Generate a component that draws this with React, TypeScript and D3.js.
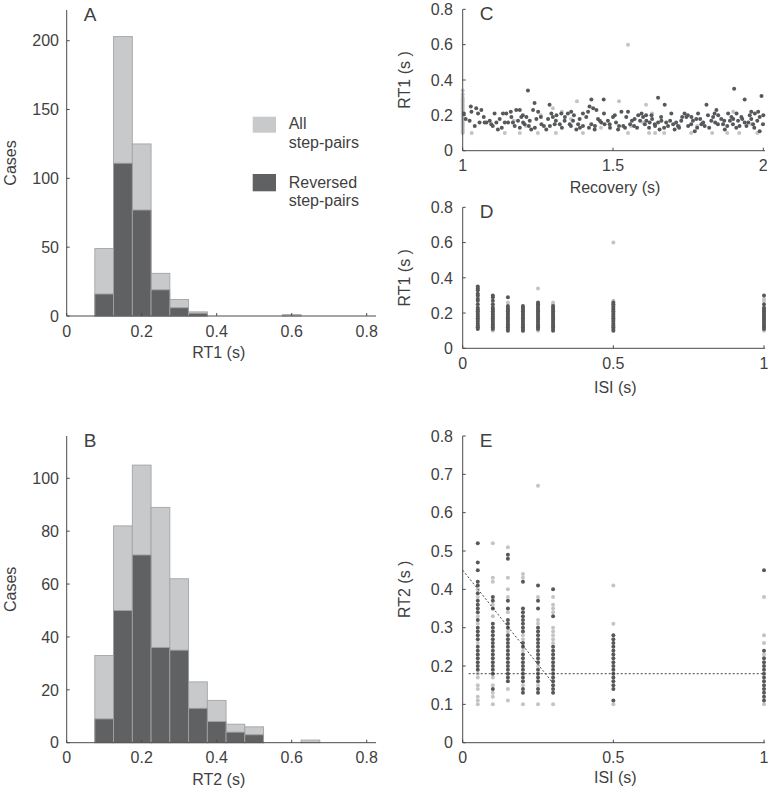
import * as d3 from "d3";

// ===== Data =====
const binCenters = [0.1, 0.15, 0.2, 0.25, 0.3, 0.35, 0.4, 0.45, 0.5, 0.55, 0.6, 0.65];
const rt1All = [49, 203, 125, 31, 12, 3, 0, 0, 0, 0, 1, 0];
const rt1Reversed = [16, 111, 77, 19, 6, 2, 0, 0, 0, 0, 0, 0];
const rt2All = [33, 82, 105, 89, 62, 23, 16, 7, 6, 0, 0, 1];
const rt2Reversed = [9, 50, 71, 36, 35, 13, 8, 4, 3, 0, 0, 0];

const isiValues = [0.05, 0.1, 0.15, 0.2, 0.25, 0.3, 0.5, 1];

// panel D: RT1 by ISI
const rt1RevByIsi = [
  [0.35, 0.34, 0.33, 0.31, 0.3, 0.28, 0.27, 0.25, 0.23, 0.22, 0.21, 0.2, 0.19, 0.18, 0.17, 0.16, 0.15, 0.14, 0.13, 0.12, 0.11],
  [0.3, 0.29, 0.27, 0.25, 0.23, 0.22, 0.21, 0.2, 0.19, 0.18, 0.17, 0.16, 0.15, 0.14, 0.13, 0.12, 0.11],
  [0.29, 0.24, 0.23, 0.22, 0.21, 0.2, 0.19, 0.18, 0.17, 0.16, 0.15, 0.14, 0.13, 0.12, 0.11, 0.1],
  [0.24, 0.23, 0.22, 0.21, 0.2, 0.19, 0.18, 0.17, 0.16, 0.15, 0.14, 0.13, 0.12, 0.11, 0.1],
  [0.26, 0.25, 0.24, 0.23, 0.22, 0.21, 0.2, 0.19, 0.18, 0.17, 0.16, 0.15, 0.14, 0.13, 0.12, 0.11],
  [0.24, 0.23, 0.22, 0.21, 0.2, 0.19, 0.18, 0.17, 0.16, 0.15, 0.14, 0.13, 0.12, 0.11, 0.1],
  [0.26, 0.25, 0.24, 0.23, 0.22, 0.21, 0.2, 0.19, 0.18, 0.17, 0.16, 0.15, 0.14, 0.13, 0.12, 0.11, 0.1],
  [0.3, 0.25, 0.23, 0.22, 0.21, 0.2, 0.19, 0.18, 0.17, 0.16, 0.15, 0.14, 0.13, 0.12, 0.11],
];
const rt1AllByIsi = [
  [0.29, 0.12],
  [0.24, 0.1],
  [0.26],
  [0.1],
  [0.34, 0.1],
  [0.26, 0.25],
  [0.6, 0.27],
  [0.28, 0.27, 0.1],
];

// panel E: RT2 by ISI
const rt2RevByIsi = [
  [0.52, 0.47, 0.45, 0.42, 0.41, 0.39, 0.37, 0.36, 0.35, 0.34, 0.32, 0.3, 0.29, 0.28, 0.27, 0.25, 0.24, 0.23, 0.22, 0.21, 0.2, 0.19],
  [0.38, 0.37, 0.35, 0.31, 0.3, 0.29, 0.28, 0.27, 0.26, 0.25, 0.24, 0.23, 0.22, 0.21, 0.2, 0.19, 0.18, 0.14],
  [0.49, 0.48, 0.37, 0.35, 0.32, 0.31, 0.3, 0.28, 0.27, 0.26, 0.25, 0.24, 0.23, 0.22, 0.21, 0.2, 0.19, 0.18, 0.17, 0.16],
  [0.42, 0.35, 0.34, 0.33, 0.32, 0.31, 0.3, 0.29, 0.26, 0.25, 0.23, 0.22, 0.21, 0.2, 0.19, 0.18, 0.17, 0.16, 0.14, 0.13],
  [0.41, 0.37, 0.35, 0.3, 0.29, 0.28, 0.27, 0.26, 0.25, 0.24, 0.23, 0.22, 0.21, 0.19, 0.18, 0.17, 0.16, 0.14, 0.13],
  [0.4, 0.33, 0.25, 0.24, 0.23, 0.22, 0.21, 0.2, 0.19, 0.18, 0.17, 0.16, 0.15, 0.14, 0.13],
  [0.28, 0.27, 0.26, 0.25, 0.24, 0.23, 0.22, 0.21, 0.2, 0.19, 0.18, 0.17, 0.16, 0.15, 0.14, 0.11],
  [0.45, 0.24, 0.22, 0.21, 0.2, 0.19, 0.18, 0.17, 0.16, 0.15, 0.14, 0.13, 0.12, 0.11],
];
const rt2AllByIsi = [
  [0.4, 0.38, 0.33, 0.31, 0.26, 0.18, 0.17, 0.15, 0.14, 0.12, 0.11, 0.1],
  [0.52, 0.43, 0.42, 0.36, 0.33, 0.17, 0.15, 0.13, 0.12, 0.1],
  [0.51, 0.43, 0.4, 0.38, 0.34, 0.29, 0.14, 0.11],
  [0.44, 0.43, 0.28, 0.27, 0.24, 0.15, 0.1],
  [0.67, 0.38, 0.32, 0.31, 0.2, 0.15, 0.1],
  [0.38, 0.36, 0.35, 0.34, 0.3, 0.29, 0.28, 0.27, 0.26, 0.1],
  [0.41, 0.31, 0.1],
  [0.38, 0.28, 0.26, 0.23, 0.1],
];

// fitted lines in E
const fitSlope = [[0, 0.45], [0.3, 0.155]];
const fitFlat = [[0.02, 0.18], [1, 0.18]];

// panel C: RT1 vs recovery
const recoveryRev = [
  [1.004, 0.21], [1.027, 0.25], [1.029, 0.22], [1.023, 0.17], [1.045, 0.24], [1.051, 0.21], [1.056, 0.16], [1.062, 0.23],
  [1.073, 0.16], [1.079, 0.16], [1.09, 0.17], [1.095, 0.15], [1.106, 0.21], [1.112, 0.16], [1.117, 0.12], [1.123, 0.18],
  [1.134, 0.21], [1.14, 0.16], [1.145, 0.21], [1.151, 0.16], [1.162, 0.19], [1.167, 0.16], [1.173, 0.14], [1.178, 0.23],
  [1.184, 0.17], [1.19, 0.23], [1.195, 0.19], [1.201, 0.16], [1.206, 0.15], [1.212, 0.19], [1.217, 0.34], [1.223, 0.17],
  [1.228, 0.12], [1.234, 0.23], [1.239, 0.27], [1.245, 0.18], [1.251, 0.22], [1.262, 0.15], [1.278, 0.12], [1.284, 0.18],
  [1.289, 0.26], [1.295, 0.21], [1.3, 0.19], [1.306, 0.15], [1.312, 0.2], [1.323, 0.15], [1.328, 0.21], [1.339, 0.17],
  [1.35, 0.21], [1.356, 0.15], [1.361, 0.22], [1.367, 0.17], [1.378, 0.12], [1.384, 0.15], [1.389, 0.18], [1.4, 0.14],
  [1.411, 0.19], [1.417, 0.22], [1.422, 0.25], [1.428, 0.29], [1.428, 0.15], [1.434, 0.24], [1.439, 0.12], [1.445, 0.23],
  [1.456, 0.17], [1.461, 0.16], [1.469, 0.29], [1.472, 0.15], [1.483, 0.17], [1.489, 0.15], [1.5, 0.19], [1.506, 0.2],
  [1.517, 0.12], [1.528, 0.22], [1.534, 0.14], [1.544, 0.19], [1.557, 0.15], [1.563, 0.17], [1.572, 0.18], [1.584, 0.2],
  [1.595, 0.21], [1.6, 0.19], [1.606, 0.15], [1.611, 0.17], [1.622, 0.16], [1.628, 0.2], [1.639, 0.15], [1.65, 0.3],
  [1.65, 0.16], [1.655, 0.12], [1.661, 0.17], [1.672, 0.26], [1.677, 0.16], [1.683, 0.14], [1.694, 0.21], [1.7, 0.15],
  [1.705, 0.12], [1.716, 0.14], [1.727, 0.17], [1.738, 0.21], [1.744, 0.19], [1.749, 0.2], [1.761, 0.19], [1.766, 0.17],
  [1.772, 0.11], [1.777, 0.18], [1.783, 0.21], [1.794, 0.15], [1.805, 0.14], [1.811, 0.26], [1.816, 0.2], [1.827, 0.17],
  [1.833, 0.19], [1.838, 0.21], [1.844, 0.23], [1.849, 0.15], [1.86, 0.18], [1.866, 0.15], [1.872, 0.12], [1.883, 0.21],
  [1.889, 0.17], [1.894, 0.19], [1.899, 0.15], [1.903, 0.35], [1.911, 0.21], [1.916, 0.17], [1.921, 0.14], [1.927, 0.19],
  [1.938, 0.29], [1.938, 0.16], [1.944, 0.14], [1.955, 0.2], [1.96, 0.18], [1.966, 0.15], [1.972, 0.21], [1.983, 0.22],
  [1.988, 0.19], [1.994, 0.31], [1.999, 0.15], [1.988, 0.11],
  [1.01, 0.18], [1.04, 0.14], [1.07, 0.19], [1.1, 0.14], [1.13, 0.13], [1.16, 0.22], [1.19, 0.13], [1.2, 0.2],
  [1.22, 0.14], [1.24, 0.13], [1.26, 0.19], [1.27, 0.14], [1.29, 0.14], [1.31, 0.17], [1.33, 0.13], [1.34, 0.19],
  [1.36, 0.14], [1.37, 0.2], [1.39, 0.13], [1.4, 0.21], [1.42, 0.13], [1.44, 0.14], [1.45, 0.18], [1.47, 0.21],
  [1.49, 0.13], [1.51, 0.16], [1.52, 0.14], [1.54, 0.13], [1.55, 0.22], [1.57, 0.14], [1.58, 0.13], [1.59, 0.17],
  [1.61, 0.2], [1.62, 0.13], [1.63, 0.18], [1.64, 0.14], [1.66, 0.19], [1.67, 0.13], [1.69, 0.17], [1.71, 0.16],
  [1.72, 0.13], [1.73, 0.19], [1.75, 0.14], [1.76, 0.15], [1.78, 0.13], [1.79, 0.18], [1.8, 0.16], [1.82, 0.13],
  [1.84, 0.16], [1.85, 0.2], [1.87, 0.17], [1.88, 0.14], [1.9, 0.18], [1.91, 0.13], [1.93, 0.18], [1.95, 0.16],
  [1.96, 0.22], [1.97, 0.13], [1.98, 0.17], [2.0, 0.2],
];
const recoveryAll = [
  [1, 0.34], [1, 0.32], [1, 0.3], [1, 0.29], [1, 0.28], [1, 0.27], [1, 0.26], [1, 0.25], [1, 0.24], [1, 0.23],
  [1, 0.22], [1, 0.21], [1, 0.2], [1, 0.19], [1, 0.18], [1, 0.17], [1, 0.16], [1, 0.15], [1, 0.14], [1, 0.13],
  [1, 0.12], [1, 0.11], [1, 0.1],
  [1.03, 0.1], [1.14, 0.1], [1.19, 0.1], [1.17, 0.17], [1.21, 0.14], [1.25, 0.1], [1.26, 0.2], [1.3, 0.24],
  [1.31, 0.1], [1.38, 0.28], [1.4, 0.1], [1.36, 0.18], [1.52, 0.28], [1.55, 0.6], [1.55, 0.1], [1.56, 0.14],
  [1.6, 0.16], [1.61, 0.26], [1.62, 0.1], [1.64, 0.1], [1.67, 0.1], [1.63, 0.21], [1.72, 0.14], [1.76, 0.1],
  [1.78, 0.14], [1.83, 0.1], [1.88, 0.1], [1.92, 0.1], [1.98, 0.1], [1.9, 0.22], [1.96, 0.15], [1.46, 0.13],
  [1.33, 0.22],
];

const histYTicksA = [0, 50, 100, 150, 200];
const histYTicksB = [0, 20, 40, 60, 80, 100];
const histXTicks = [0, 0.2, 0.4, 0.6, 0.8];
const rtTicks = [0, 0.2, 0.4, 0.6, 0.8];
const rt2Ticks = [0, 0.1, 0.2, 0.3, 0.4, 0.5, 0.6, 0.7, 0.8];
const recoveryTicks = [1, 1.5, 2];
const isiTicks = [0, 0.5, 1];

// ===== Styles =====
const FONT = "'Liberation Sans', Arial, sans-serif";
const AXIS = "#4a4a4a";
const TEXT = "#3f3f3f";
const LIGHT = "#c8c9cb";
const DARK = "#606163";
const DOT_LIGHT = "#c3c4c6";
const DOT_DARK = "#56585a";
const BIN = 0.05;

type Lin = d3.ScaleLinear<number, number>;

function Axes({
  x, y, xTicks, yTicks, xEnd, yTop, xLabel, yLabel, letter, yLabelX, yLabelAnchor, xLabelY,
}: {
  x: Lin; y: Lin; xTicks: number[]; yTicks: number[]; xEnd: number; yTop: number;
  xLabel: string; yLabel: string; letter: string; yLabelX: number; yLabelAnchor: number; xLabelY: number;
}) {
  const x0 = x.range()[0];
  const y0 = y.range()[0];
  const fmt = (d: number) => String(d);
  const [xa, xb] = x.range();
  const [ya, yb] = [y0, yTop];
  return (
    <g fontFamily={FONT} fill={TEXT}>
      <line x1={x0} x2={xEnd} y1={y0} y2={y0} stroke={AXIS} strokeWidth={1} />
      <line x1={x0} x2={x0} y1={y0} y2={yTop} stroke={AXIS} strokeWidth={1} />
      {xTicks.map((t) => (
        <g key={"x" + t}>
          <line x1={x(t)} x2={x(t)} y1={y0} y2={y0 - 3} stroke={AXIS} />
          <text x={x(t)} y={y0 + 20.5} textAnchor="middle" fontSize={16}>
            {fmt(t)}
          </text>
        </g>
      ))}
      {yTicks.map((t) => (
        <g key={"y" + t}>
          <line x1={x0} x2={x0 + 3} y1={y(t)} y2={y(t)} stroke={AXIS} />
          <text x={yLabelAnchor} y={y(t)} dy="0.36em" textAnchor="end" fontSize={16}>
            {fmt(t)}
          </text>
        </g>
      ))}
      <text x={(xa + xb) / 2 + 2} y={xLabelY} textAnchor="middle" fontSize={16}>
        {xLabel}
      </text>
      <text
        transform={`translate(${yLabelX},${(ya + yb) / 2}) rotate(-90)`}
        textAnchor="middle"
        fontSize={16}
      >
        {yLabel}
      </text>
      <text x={x0 + 17} y={yTop + 11} fontSize={19}>
        {letter}
      </text>
    </g>
  );
}

function Histogram({
  all, rev, top, yMaxPx, yZeroPx, yTopVal, yTicks, xLabel, letter, legend,
}: {
  all: number[]; rev: number[]; top: number; yMaxPx: number; yZeroPx: number; yTopVal: number;
  yTicks: number[]; xLabel: string; letter: string; legend?: boolean;
}) {
  const x = d3.scaleLinear().domain([0, 0.8]).range([66.7, 366.7]);
  const y = d3.scaleLinear().domain([0, yTopVal]).range([yZeroPx, yMaxPx]);
  const bars = (vals: number[], fill: string, stroke: string) =>
    binCenters.map((c, i) =>
      vals[i] > 0 ? (
        <rect
          key={fill + i}
          x={x(c - BIN / 2)}
          width={x(c + BIN / 2) - x(c - BIN / 2)}
          y={y(vals[i])}
          height={y(0) - y(vals[i])}
          fill={fill}
          stroke={stroke}
          strokeWidth={0.9}
        />
      ) : null,
    );
  return (
    <g>
      {bars(all, LIGHT, "#a4a5a7")}
      {bars(rev, DARK, "#a0a1a3")}
      <Axes
        x={x}
        y={y}
        xTicks={histXTicks}
        yTicks={yTicks}
        xEnd={376}
        yTop={top}
        xLabel={xLabel}
        yLabel="Cases"
        letter={letter}
        yLabelX={15.5}
        yLabelAnchor={59}
        xLabelY={yZeroPx + 42}
      />
      {legend && (
        <g fontFamily={FONT} fill={TEXT} fontSize={16}>
          <rect x={252.7} y={116.7} width={23.3} height={16} fill={LIGHT} />
          <text x={288.7} y={129}>All</text>
          <text x={288.7} y={148}>step-pairs</text>
          <rect x={252.7} y={174} width={23.3} height={17.3} fill={DARK} />
          <text x={288.7} y={187.7}>Reversed</text>
          <text x={288.7} y={205.7}>step-pairs</text>
        </g>
      )}
    </g>
  );
}

function Dots({ pts, x, y, color }: { pts: number[][]; x: Lin; y: Lin; color: string }) {
  return (
    <g fill={color}>
      {pts.map((p, i) => (
        <circle key={i} cx={x(p[0])} cy={y(p[1])} r={2} />
      ))}
    </g>
  );
}

const toPts = (cols: number[][]) => cols.flatMap((vals, i) => vals.map((v) => [isiValues[i], v]));

export default function App() {
  const xC = d3.scaleLinear().domain([1, 2]).range([462.7, 763.3]);
  const yC = d3.scaleLinear().domain([0, 0.8]).range([150.7, 9.3]);
  const xD = d3.scaleLinear().domain([0, 1]).range([462.7, 764]);
  const yD = d3.scaleLinear().domain([0, 0.8]).range([348.3, 207.3]);
  const xE = d3.scaleLinear().domain([0, 1]).range([462.7, 764]);
  const yE = d3.scaleLinear().domain([0, 0.8]).range([742.7, 436]);
  const line = d3
    .line<number[]>()
    .x((d) => xE(d[0]))
    .y((d) => yE(d[1]));

  return (
    <svg
      width={771}
      height={792}
      style={{ position: "absolute", left: 0, top: 0, background: "#fff" }}
    >
      <Histogram
        all={rt1All}
        rev={rt1Reversed}
        top={10}
        yMaxPx={40.7}
        yZeroPx={316}
        yTopVal={200}
        yTicks={histYTicksA}
        xLabel="RT1 (s)"
        letter="A"
        legend
      />
      <Histogram
        all={rt2All}
        rev={rt2Reversed}
        top={436}
        yMaxPx={478.3}
        yZeroPx={742.7}
        yTopVal={100}
        yTicks={histYTicksB}
        xLabel="RT2 (s)"
        letter="B"
      />

      {/* C */}
      <Dots pts={recoveryAll} x={xC} y={yC} color={DOT_LIGHT} />
      <Dots pts={recoveryRev} x={xC} y={yC} color={DOT_DARK} />
      <Axes
        x={xC}
        y={yC}
        xTicks={recoveryTicks}
        yTicks={rtTicks}
        xEnd={765}
        yTop={9.3}
        xLabel="Recovery (s)"
        yLabel="RT1 (s )"
        letter="C"
        yLabelX={410}
        yLabelAnchor={453}
        xLabelY={193.3}
      />

      {/* D */}
      <Dots pts={toPts(rt1AllByIsi)} x={xD} y={yD} color={DOT_LIGHT} />
      <Dots pts={toPts(rt1RevByIsi)} x={xD} y={yD} color={DOT_DARK} />
      <Axes
        x={xD}
        y={yD}
        xTicks={isiTicks}
        yTicks={rtTicks}
        xEnd={765}
        yTop={207.3}
        xLabel="ISI (s)"
        yLabel="RT1 (s )"
        letter="D"
        yLabelX={410}
        yLabelAnchor={453}
        xLabelY={393}
      />

      {/* E */}
      <Dots pts={toPts(rt2AllByIsi)} x={xE} y={yE} color={DOT_LIGHT} />
      <Dots pts={toPts(rt2RevByIsi)} x={xE} y={yE} color={DOT_DARK} />
      <path d={line(fitSlope) ?? ""} fill="none" stroke="#333" strokeWidth={0.9} strokeDasharray="2,2" />
      <path d={line(fitFlat) ?? ""} fill="none" stroke="#333" strokeWidth={0.9} strokeDasharray="2,2" />
      <Axes
        x={xE}
        y={yE}
        xTicks={isiTicks}
        yTicks={rt2Ticks}
        xEnd={765}
        yTop={436}
        xLabel="ISI (s)"
        yLabel="RT2 (s )"
        letter="E"
        yLabelX={410}
        yLabelAnchor={453}
        xLabelY={783}
      />
    </svg>
  );
}
